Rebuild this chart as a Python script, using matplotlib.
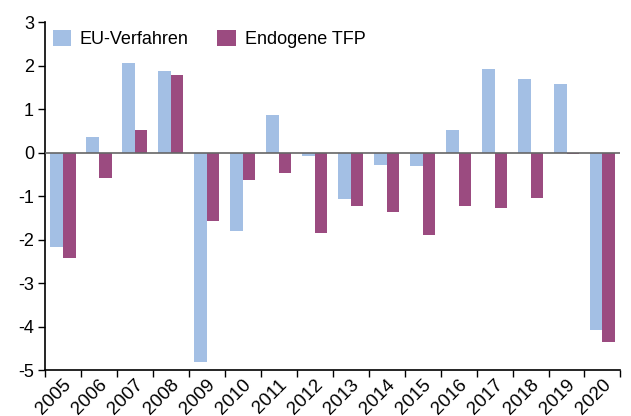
import numpy as np
import matplotlib.pyplot as plt

years = [str(y) for y in range(2005, 2021)]
eu_verfahren = [-2.16, 0.35, 2.07, 1.87, -4.80, -1.80, 0.87, -0.08,
                -1.07, -0.28, -0.30, 0.52, 1.93, 1.68, 1.57, -4.08]
endogene_tfp = [-2.41, -0.58, 0.52, 1.78, -1.58, -0.62, -0.47, -1.84,
                -1.23, -1.36, -1.90, -1.23, -1.28, -1.04, -0.03, -4.35]

plt.rcParams['font.family'] = ['Liberation Sans', 'DejaVu Sans']

fig = plt.figure(figsize=(6.31, 4.16), dpi=100)
ax = fig.add_axes([0.0713, 0.11, 0.912, 0.837])

x = np.arange(len(years))
w = 0.35
ax.bar(x - w / 2, eu_verfahren, w, color='#a3bfe4', label='EU-Verfahren')
ax.bar(x + w / 2, endogene_tfp, w, color='#9b4b80', label='Endogene TFP')

ax.axhline(0, color='#666666', lw=1.2, zorder=3)

ax.set_xlim(-0.5, len(years) - 0.5)
ax.set_ylim(-5, 3)
ax.set_yticks(range(-5, 4))
ax.set_yticklabels([str(v) for v in range(-5, 4)], fontsize=13)

# ticks on category boundaries, labels at the centres
ax.set_xticks(np.arange(len(years) + 1) - 0.5)
ax.set_xticklabels([])
ax.set_xticks(x, minor=True)
ax.set_xticklabels(years, minor=True, rotation=45, ha='right',
                   rotation_mode='anchor', fontsize=13.5)
ax.tick_params(axis='x', which='minor', length=0, pad=4)
ax.tick_params(axis='x', which='major', length=5, width=1, direction='out')
ax.tick_params(axis='y', length=5, width=1, pad=3)

for s in ['top', 'right']:
    ax.spines[s].set_visible(False)
ax.spines['left'].set_linewidth(1.2)
ax.spines['bottom'].set_linewidth(1.2)

ax.legend(loc='upper left', ncol=2, frameon=False, fontsize=13,
          handlelength=1.0, handleheight=1.0, columnspacing=1.6,
          handletextpad=0.5, bbox_to_anchor=(-0.015, 1.025))

plt.savefig('out.png', dpi=100)
